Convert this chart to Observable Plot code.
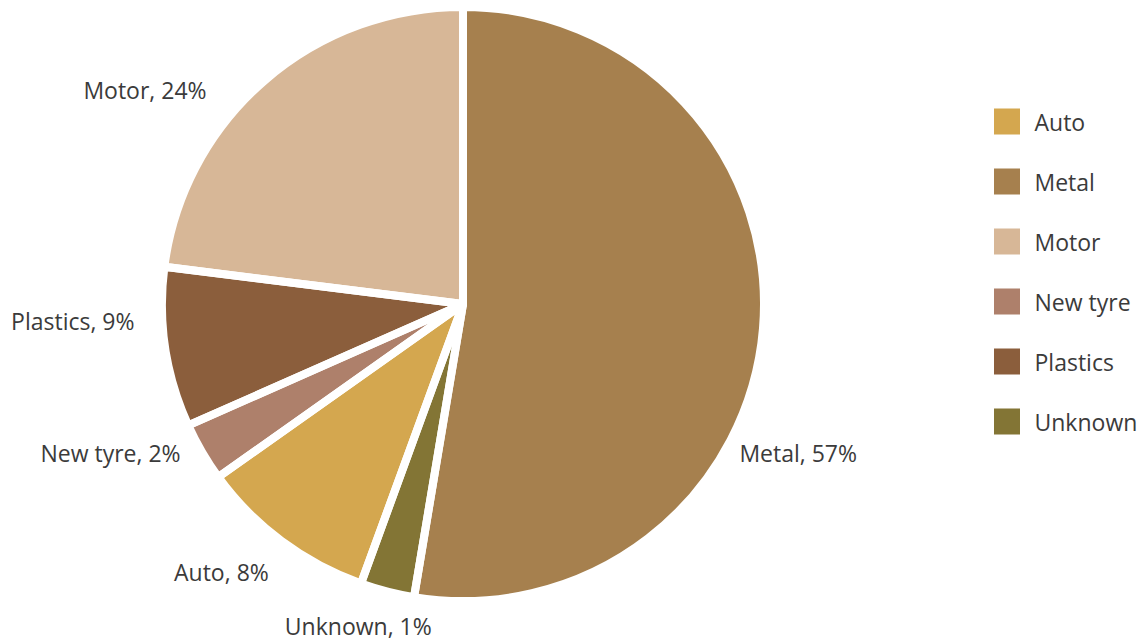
<!DOCTYPE html>
<html>
<head>
<meta charset="utf-8">
<script src="https://cdn.jsdelivr.net/npm/d3@7"></script>
<script src="https://cdn.jsdelivr.net/npm/@observablehq/plot@0.6"></script>
<style>
  html, body { margin: 0; padding: 0; background: #ffffff; }
  #chart svg { display: block; }
</style>
</head>
<body>
<div id="chart"></div>
<script>
// ---- Data (slices listed clockwise from 12 o'clock) ----
const categories = ["Metal", "Unknown", "Auto", "New tyre", "Plastics", "Motor"];
const shares = [52.6, 2.9, 9.6, 3.2, 8.7, 23.0];          // slice sizes
const labelPercents = [57, 1, 8, 2, 9, 24];               // percentages printed on the labels
const legendOrder = ["Auto", "Metal", "Motor", "New tyre", "Plastics", "Unknown"];
const legendColors = ["#D4A74F", "#A6804E", "#D7B797", "#AE806B", "#8B5E3C", "#837535"];

// ---- Layout ----
const W = 1142, H = 644;
const cx = 463, cy = 304;
const rxVisible = 297, ryVisible = 293;   // drawn pie is very slightly oval
const gapPx = 8;                          // white separators
const Rpath = rxVisible + gapPx / 2;
const ky = (ryVisible + gapPx / 2) / Rpath;
const labelNudgeDeg = [23.7, 3.5, -1.1, 2.1, 5.5, -8.8];
const labelOffset = [16.6, 42, 34.4, 22.8, 32.4, 37.4];
const textShiftY = 1.2;
const legendX = 994, legendTop = 121.5, legendStep = 60, swatch = 26, legendTextGap = 14;
const textColor = "#3b3b3b", fontSize = 23;

const table = categories.map((c, i) => ({category: c, share: shares[i], pct: labelPercents[i], i}));
const arcs = d3.pie().sort(null).value(d => d.share)(table);

const labels = arcs.map(a => {
  const i = a.data.i;
  const mid = (a.startAngle + a.endAngle) / 2 + labelNudgeDeg[i] * Math.PI / 180;
  const r = rxVisible + labelOffset[i];
  const s = Math.sin(mid);
  return {
    text: `${a.data.category}, ${a.data.pct}%`,
    x: cx + r * s,
    y: cy - r * Math.cos(mid) + textShiftY,
    anchor: s > 0.4 ? "start" : s < -0.4 ? "end" : "middle"
  };
});

const legendRows = legendOrder.map((c, i) => ({
  category: c,
  x1: legendX, x2: legendX + swatch,
  y: legendTop + i * legendStep,
  ty: legendTop + i * legendStep + textShiftY,
  y1: legendTop + i * legendStep - swatch / 2,
  y2: legendTop + i * legendStep + swatch / 2,
  tx: legendX + swatch + legendTextGap
}));

function wedges(index, scales) {
  const sx = scales.x || (v => v), sy = scales.y || (v => v);
  const arc = d3.arc().innerRadius(0).outerRadius(Rpath);
  const g = d3.create("svg:g")
    .attr("transform", `translate(${sx(cx)},${sy(cy)}) scale(1,${ky})`);
  g.append("g").selectAll("path")
    .data(arcs)
    .join("path")
    .attr("d", arc)
    .attr("fill", a => scales.color(a.data.category));
  g.append("g").selectAll("path")
    .data(arcs)
    .join("path")
    .attr("d", arc)
    .attr("fill", "none")
    .attr("stroke", "#ffffff")
    .attr("stroke-width", gapPx)
    .attr("stroke-linejoin", "round");
  return g.node();
}

const chart = Plot.plot({
  width: W,
  height: H,
  margin: 0,
  x: {type: "identity", axis: null},
  y: {type: "identity", axis: null},
  color: {domain: legendOrder, range: legendColors},
  style: {fontFamily: "'Open Sans', sans-serif", background: "#ffffff", color: textColor},
  marks: [
    wedges,
    ...["start", "middle", "end"].map(anchor =>
      Plot.text(labels.filter(d => d.anchor === anchor), {
        x: "x", y: "y", text: "text", textAnchor: anchor,
        fontSize, fill: textColor
      })
    ),
    Plot.rect(legendRows, {x1: "x1", x2: "x2", y1: "y1", y2: "y2", fill: "category"}),
    Plot.text(legendRows, {x: "tx", y: "ty", text: "category", textAnchor: "start", fontSize, fill: textColor})
  ]
});

document.getElementById("chart").appendChild(chart);
</script>
</body>
</html>
